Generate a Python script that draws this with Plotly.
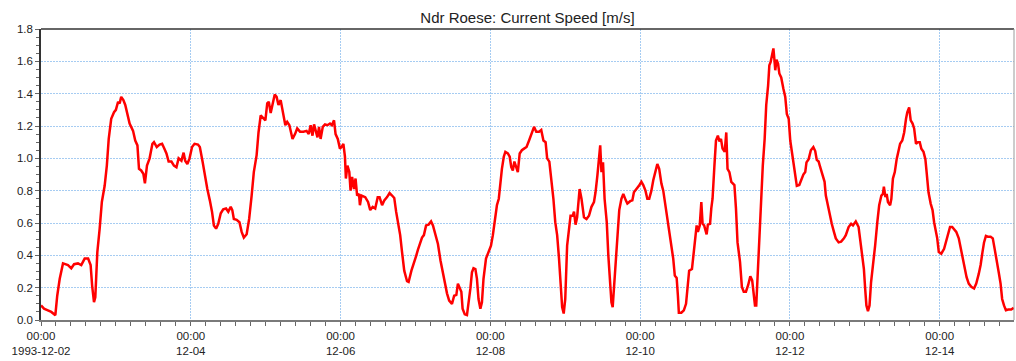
import pandas as pd
import plotly.graph_objects as go

# Hours since 1993-12-02 00:00 and current speed [m/s]
hours = [
    0, 0.96, 2.2, 3.3, 4.6, 5.2, 6.0, 7.05, 8.65, 9.7, 10.6, 11.85, 12.9, 14.0, 15.1, 15.9, 16.4,
    16.98, 17.4, 18.05, 18.8, 19.5, 20.4, 21.1, 21.7, 22.5, 23.4, 24.0, 24.7, 25.2, 25.7, 26.4,
    27.0, 27.7, 28.4, 29.5, 30.2, 30.9, 31.4, 32.1, 32.8, 33.3, 33.96, 34.8, 35.7, 36.2, 37.1,
    38.0, 38.8, 39.4, 40.2, 40.9, 41.8, 42.6, 43.4, 44.1, 45.0, 45.7, 46.2, 46.9, 47.6, 48.4,
    49.2, 50.3,
    50.9, 51.8, 52.5, 53.3, 54.1, 54.8, 55.4, 56.1, 56.8, 57.6, 58.4, 59.3, 60.0, 60.8, 61.3,
    61.8, 62.7, 63.6, 64.3, 65.0, 65.9, 66.7, 67.5, 68.2, 69.1, 69.7, 70.4, 71.2, 71.9, 72.5,
    73.0, 73.6, 74.2, 74.9, 75.5, 76.1, 76.8, 77.4, 77.9, 78.3, 78.9, 79.6, 80.0, 80.6, 81.4,
    82.1, 83.0, 84.1, 85.1, 85.8, 86.4, 87.0, 87.5, 88.0, 88.6, 89.1, 89.6, 90.3, 91.0, 91.8,
    92.6, 93.2, 93.9, 94.4, 95.1, 95.8, 96.3, 96.9, 97.4, 97.7, 98.2, 98.8, 99.2, 99.7, 100.3,
    100.8, 101.3, 101.9, 102.2, 102.7,
    103.9, 104.8, 105.5, 106.3, 107.1, 107.9, 108.5, 109.3, 110.0, 110.9, 111.7, 112.5, 113.2,
    113.8, 114.4, 115.1, 115.7, 116.4, 117.3, 117.8, 118.7, 119.4, 120.2, 120.8, 121.6, 122.1,
    122.7, 123.4, 124.2, 125.0, 125.6, 126.4, 127.2, 128.0, 128.7, 129.4, 130.1, 130.8, 131.7,
    132.4, 133.1, 133.6, 134.2, 134.7, 135.1, 135.8, 136.5, 137.0, 137.6, 138.1, 138.6, 139.2,
    139.7, 140.2, 140.8, 141.3, 141.8, 142.6, 143.4, 144.2, 144.8, 145.6, 146.1, 146.7, 147.2,
    147.7, 148.3, 148.8, 149.6, 150.2, 150.7, 151.2, 151.7, 152.2, 152.8, 153.4, 154.1,
    154.8, 155.6, 156.4, 157.1, 158.0, 158.7, 159.6, 160.3, 161.0, 161.7, 162.2, 162.9, 163.5,
    164.2, 164.8, 165.4, 166.0, 166.5, 167.0, 167.5, 168.0, 168.6, 169.2, 169.7, 170.4, 170.8,
    171.3, 171.8, 172.6, 173.2, 174.0, 174.8, 175.6, 176.4, 177.2, 177.7, 178.3, 178.8, 179.2,
    179.6, 180.1, 180.6, 181.3, 181.8, 182.4, 182.8, 183.2, 183.9, 184.5, 185.3, 186.0, 186.6,
    187.4, 187.9, 188.8, 189.5, 190.0, 190.9, 191.6, 192.4, 193.0, 193.7, 194.3, 194.9, 195.6,
    196.2, 197.0, 197.5, 198.1, 198.8, 199.4, 200.1, 200.7, 201.4, 202.0, 202.6, 203.1, 203.7,
    204.1, 204.4, 205.2, 206.0,
    206.7, 207.2, 207.7, 208.6, 209.0, 209.6, 210.1, 210.5, 211.1, 211.6, 212.0, 212.5, 213.3,
    213.7, 214.4, 214.8, 215.2, 215.8, 216.3, 216.9, 217.4, 217.9, 218.4, 219.1, 219.6, 220.0,
    220.6, 221.2, 222.2, 222.7, 223.2, 224.0, 224.6, 225.2, 225.9, 226.6, 227.3, 227.9, 228.4,
    228.8, 229.2, 229.7, 230.2, 230.7, 231.3, 231.9, 232.4, 233.0, 233.4, 233.8, 234.2, 234.7,
    235.0, 235.3, 235.7, 236.2, 236.6, 237.2, 237.9, 238.5, 239.0, 239.6, 240.1, 240.6, 241.2,
    241.7, 242.2, 243.0, 243.6, 244.3, 244.9, 245.3, 246.0, 246.7, 247.5, 248.1, 248.6, 249.2,
    249.7, 250.5, 251.1, 251.5, 252.2, 252.8, 253.4, 254.1, 254.7, 255.6, 256.4, 257.3, 257.9,
    258.8, 259.6,
    260.2, 261.1, 262.0, 262.6, 263.3, 263.7, 264.1, 264.5, 265.0, 265.5, 266.0, 266.7, 267.3,
    268.0, 268.6, 269.3, 269.8, 270.1, 270.6, 271.0, 271.4, 272.1, 272.5, 273.0, 273.6, 274.2,
    274.7, 275.3, 276.0, 276.6, 277.2, 277.6, 278.2, 278.7, 279.3, 279.8, 280.4, 281.0, 281.6,
    282.1, 282.8, 283.4, 283.8, 284.4, 285.1, 285.7, 286.2, 286.8, 287.2, 287.7, 288.5, 289.4,
    290.0, 290.6, 291.3, 292.0, 292.6, 293.3, 294.1, 294.7, 295.5, 296.0, 296.6, 297.3, 298.1,
    299.0, 299.7, 300.5, 301.1, 301.7, 302.2, 302.8, 303.4, 304.3, 305.0, 305.6, 306.2, 306.9,
    307.5, 308.0, 308.6, 309.2, 310.0, 310.9, 311.7,
]

speed = [
    0.09, 0.07, 0.06, 0.05, 0.03, 0.15, 0.255, 0.35, 0.34, 0.32, 0.345, 0.35, 0.34, 0.38, 0.38, 0.34, 0.21,
    0.11, 0.14, 0.42, 0.565, 0.73, 0.83, 0.955, 1.12, 1.245, 1.285, 1.30, 1.35, 1.34, 1.38, 1.36,
    1.33, 1.275, 1.215, 1.17, 1.11, 1.08, 0.935, 0.925, 0.905, 0.845, 0.955, 1.00, 1.09, 1.10, 1.07,
    1.085, 1.09, 1.065, 1.03, 0.98, 0.98, 0.955, 0.945, 1.00, 0.985, 1.035, 0.985, 0.965, 1.00, 1.07,
    1.09, 1.085,
    1.07, 0.977, 0.895, 0.81, 0.74, 0.67, 0.585, 0.565, 0.595, 0.66, 0.685, 0.69, 0.67, 0.70, 0.68,
    0.625, 0.62, 0.605, 0.545, 0.51, 0.53, 0.625, 0.77, 0.915, 1.02, 1.16, 1.265, 1.245, 1.235, 1.34,
    1.35, 1.28, 1.325, 1.395, 1.38, 1.33, 1.36, 1.305, 1.245, 1.205, 1.225, 1.205, 1.17, 1.12, 1.15,
    1.185, 1.165, 1.165, 1.17, 1.15, 1.205, 1.14, 1.21, 1.165, 1.13, 1.195, 1.12, 1.195, 1.21, 1.205,
    1.215, 1.205, 1.235, 1.15, 1.12, 1.06, 1.07, 1.09, 1.01, 0.875, 0.955, 0.915, 0.80, 0.885, 0.81,
    0.875, 0.77, 0.78, 0.71, 0.77,
    0.76, 0.73, 0.68, 0.70, 0.69, 0.76, 0.76, 0.71, 0.74, 0.76, 0.785, 0.77, 0.755,
    0.67, 0.605, 0.525, 0.42, 0.305, 0.24, 0.235, 0.305, 0.355, 0.395, 0.435, 0.48, 0.51,
    0.525, 0.585, 0.59, 0.61, 0.585, 0.535, 0.47, 0.37, 0.295, 0.22, 0.165, 0.12, 0.10,
    0.15, 0.155, 0.225, 0.195, 0.175, 0.07, 0.035, 0.03, 0.10, 0.195, 0.295, 0.32, 0.315,
    0.255, 0.13, 0.07, 0.11, 0.255, 0.38, 0.42, 0.46, 0.525, 0.635, 0.71, 0.75, 0.855,
    0.935, 1.01, 1.04, 1.03, 1.01, 0.945, 0.925, 0.98, 0.945, 0.915, 1.03, 1.05,
    1.06, 1.07, 1.11, 1.15, 1.195, 1.165, 1.165, 1.175, 1.11, 1.10, 1.00, 0.98, 0.875,
    0.75, 0.605, 0.525, 0.38, 0.195, 0.08, 0.04, 0.13, 0.46, 0.545, 0.645, 0.645, 0.67,
    0.59, 0.635, 0.81, 0.75, 0.635, 0.625, 0.645, 0.70, 0.73, 0.79, 0.895, 0.985, 1.08,
    0.915, 0.975, 0.75, 0.605, 0.40, 0.255, 0.11, 0.08, 0.295, 0.505, 0.68, 0.75, 0.78,
    0.74, 0.72, 0.735, 0.74, 0.79, 0.81, 0.83, 0.855, 0.835, 0.80, 0.75, 0.75, 0.80,
    0.865, 0.935, 0.965, 0.935, 0.845, 0.80, 0.71, 0.605, 0.545, 0.46, 0.38, 0.275, 0.26,
    0.15, 0.045, 0.045, 0.06,
    0.10, 0.235, 0.305, 0.315, 0.38, 0.48, 0.585, 0.545, 0.585, 0.73, 0.595, 0.585, 0.53,
    0.59, 0.595, 0.69, 0.75, 0.955, 1.11, 1.14, 1.105, 1.12, 1.06, 1.04, 1.16, 0.935,
    0.915, 0.855, 0.835, 0.69, 0.48, 0.36, 0.205, 0.175, 0.175, 0.215, 0.27, 0.245, 0.175,
    0.09, 0.09, 0.315, 0.545, 0.75, 0.955, 1.12, 1.33, 1.45, 1.575, 1.595, 1.635, 1.68,
    1.615, 1.545, 1.61, 1.585, 1.525, 1.50, 1.43, 1.38, 1.275, 1.245, 1.11, 1.04, 0.955,
    0.875, 0.83, 0.835, 0.87, 0.90, 0.915, 0.975, 0.995, 1.05, 1.07, 1.045, 0.99, 0.98,
    0.945, 0.885, 0.855, 0.77, 0.70, 0.645, 0.595, 0.545, 0.505, 0.48, 0.485, 0.505, 0.525,
    0.575, 0.595,
    0.585, 0.61, 0.575, 0.48, 0.38, 0.315, 0.195, 0.09, 0.055, 0.09, 0.235, 0.34, 0.46,
    0.605, 0.71, 0.77, 0.78, 0.825, 0.76, 0.78, 0.73, 0.71, 0.75, 0.875, 0.915, 0.995,
    1.05, 1.09, 1.11, 1.16, 1.245, 1.285, 1.315, 1.235, 1.215, 1.185, 1.09, 1.10, 1.10,
    1.06, 1.04, 0.995, 0.915, 0.79, 0.72, 0.68, 0.605, 0.555, 0.505, 0.42, 0.41, 0.44,
    0.48, 0.535, 0.575, 0.575, 0.56, 0.545, 0.505, 0.45, 0.38, 0.33, 0.265, 0.225, 0.205,
    0.195, 0.225, 0.285, 0.34, 0.42, 0.48, 0.52, 0.515, 0.515, 0.505, 0.44, 0.38, 0.295,
    0.225, 0.13, 0.09, 0.06, 0.065, 0.065, 0.075,
]

start = pd.Timestamp("1993-12-02 00:00")
times = start + pd.to_timedelta(hours, unit="h")
x_end = start + pd.to_timedelta(311.8, unit="h")

tick_dates = pd.date_range("1993-12-02", periods=7, freq="2D")
tick_labels = [
    "00:00<br>1993-12-02", "00:00<br>12-04", "00:00<br>12-06", "00:00<br>12-08",
    "00:00<br>12-10", "00:00<br>12-12", "00:00<br>12-14",
]
y_ticks = [0.0, 0.2, 0.4, 0.6, 0.8, 1.0, 1.2, 1.4, 1.6, 1.8]

FONT = "Liberation Sans, Arial, sans-serif"
GRID = "#a6ccf2"
TICK_FONT = dict(family=FONT, size=11.5, color="#222")

fig = go.Figure()
fig.add_trace(go.Scatter(
    x=times, y=speed, mode="lines",
    line=dict(color="#ff0000", width=2.5),
    hoverinfo="x+y", showlegend=False,
))

fig.update_layout(
    width=1016, height=361, autosize=False,
    margin=dict(l=41, r=2, t=29, b=41, pad=0),
    paper_bgcolor="white", plot_bgcolor="white",
    title=dict(
        text="Ndr Roese: Current Speed [m/s]",
        font=dict(family=FONT, size=15, color="#222"),
        x=0.5, xref="paper", xanchor="center",
        y=1 - 17.5 / 361, yref="container", yanchor="middle",
    ),
    font=dict(family=FONT, size=11.5, color="#222"),
)

fig.update_xaxes(
    type="date", range=[start, x_end],
    tickmode="array", tickvals=tick_dates, ticktext=tick_labels,
    ticks="outside", ticklen=4, tickcolor="#666", tickwidth=1,
    tickfont=TICK_FONT,
    showgrid=True, gridcolor=GRID, gridwidth=1, griddash="2px,1px",
    showline=True, linecolor="#7a7a7a", linewidth=2,
    minor=dict(ticks="outside", ticklen=4, tickcolor="#666", tickwidth=1,
               dtick=4.8 * 3600 * 1000, tick0=start, showgrid=False),
    zeroline=False, fixedrange=True,
)

fig.update_yaxes(
    range=[0, 1.8], tickmode="array", tickvals=y_ticks,
    ticktext=[f"{v:.1f}" for v in y_ticks],
    ticks="outside", ticklen=4, tickcolor="#666", tickwidth=1,
    tickfont=TICK_FONT,
    showgrid=True, gridcolor=GRID, gridwidth=1, griddash="2px,1px",
    showline=True, linecolor="#333", linewidth=1.5,
    minor=dict(ticks="outside", ticklen=3, tickcolor="#666", tickwidth=1,
               dtick=0.05, tick0=0, showgrid=False),
    zeroline=False, fixedrange=True,
)

# frame: dark top edge, light right edge
fig.add_shape(type="line", xref="paper", yref="paper", x0=0, x1=1, y0=1, y1=1,
              line=dict(color="#333", width=1.5), layer="above")
fig.add_shape(type="line", xref="paper", yref="paper", x0=1, x1=1, y0=0, y1=1,
              line=dict(color="#9a9a9a", width=1), layer="above")

fig.write_html("out.html")
